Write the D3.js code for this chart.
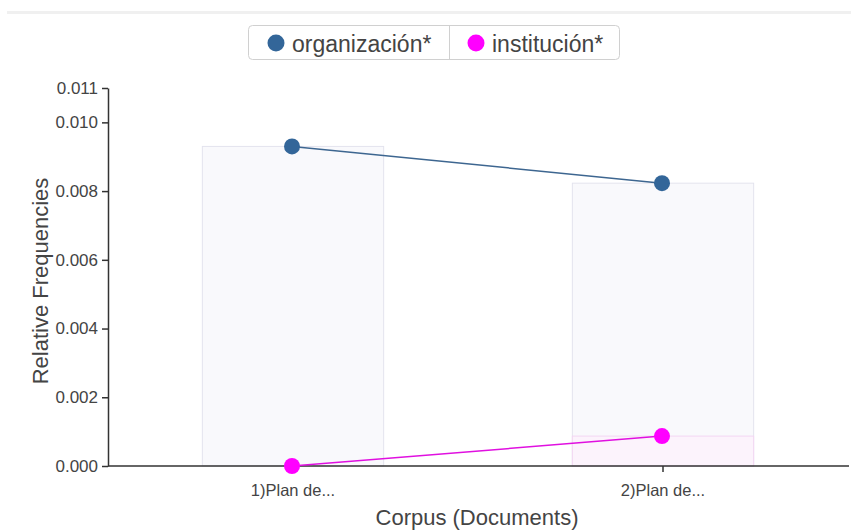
<!DOCTYPE html>
<html>
<head>
<meta charset="utf-8">
<script src="https://cdn.jsdelivr.net/npm/d3@7"></script>
<style>
  body { margin: 0; background: #fff; font-family: "Liberation Sans", Arial, sans-serif; }
  svg { display: block; }
</style>
</head>
<body>
<svg id="chart" width="851" height="531"></svg>
<script>
"use strict";

// documents on the x axis
var documents = ["1)Plan de...", "2)Plan de..."];

// series names + colors
var seriesNames = ["organización*", "institución*"];
var seriesColors = ["#336699", "#ff00ff"];

// relative frequencies per document
var organizacionValues = [0.0093, 0.00823];
var institucionValues = [0.0, 0.00087];

var yTicks = [0, 0.002, 0.004, 0.006, 0.008, 0.010, 0.011];

const svg = d3.select("#chart");

// top grey rule
svg.append("rect").attr("x", 7).attr("y", 11).attr("width", 844).attr("height", 3).attr("fill", "#f0f0f0");

var x = d3.scaleBand().domain(documents).range([108, 848]).paddingInner(0.51).paddingOuter(0.255);
var y = d3.scaleLinear().domain([0, 0.011]).range([466, 88]);

var series = [
  { name: seriesNames[0], color: seriesColors[0], values: organizacionValues, fill: "#f9f9fc", stroke: "#e3e3ee", line: "#3d6690" },
  { name: seriesNames[1], color: seriesColors[1], values: institucionValues, fill: "#fcf3fc", stroke: "#f3d6f3", line: "#e010e0" }
];

// background bars
series.forEach(function(s) {
  svg.append("g")
    .selectAll("rect")
    .data(s.values)
    .enter()
    .append("rect")
    .attr("x", function(d, i) { return x(documents[i]); })
    .attr("y", function(d) { return y(d); })
    .attr("width", x.bandwidth())
    .attr("height", function(d) { return y(0) - y(d); })
    .attr("fill", s.fill)
    .attr("stroke", s.stroke)
    .attr("stroke-width", 1);
});

// axes
var yAxis = svg.append("g")
  .attr("transform", "translate(108,0)")
  .call(d3.axisLeft(y).tickValues(yTicks).tickFormat(d3.format(".3f")).tickSizeOuter(0));
var xAxis = svg.append("g")
  .attr("transform", "translate(0,466)")
  .call(d3.axisBottom(x).tickSizeOuter(0));

[yAxis, xAxis].forEach(function(a) {
  a.selectAll("path, line").attr("stroke", "#333").attr("stroke-width", 1.5);
  a.selectAll("text").attr("fill", "#444").style("font-family", "Liberation Sans, Arial, sans-serif");
});
yAxis.selectAll("text").style("font-size", "17px").attr("x", -10);
xAxis.selectAll("text").style("font-size", "16.5px").attr("dy", "1.28em");
xAxis.select("path").attr("d", "M108,0H849");

// lines + dots
var cx = function(i) { return x(documents[i]) + x.bandwidth() / 2 - 1; };
var line = d3.line().x(function(d, i) { return cx(i); }).y(function(d) { return y(d); });

series.forEach(function(s) {
  svg.append("path")
    .datum(s.values)
    .attr("d", line)
    .attr("fill", "none")
    .attr("stroke", s.line)
    .attr("stroke-width", 1.5);
  svg.append("g")
    .selectAll("circle")
    .data(s.values)
    .enter()
    .append("circle")
    .attr("cx", function(d, i) { return cx(i); })
    .attr("cy", function(d) { return y(d); })
    .attr("r", 8)
    .attr("fill", s.color);
});

// axis titles
svg.append("text")
  .attr("transform", "translate(48,281) rotate(-90)")
  .attr("text-anchor", "middle")
  .attr("fill", "#444")
  .style("font-size", "22px")
  .text("Relative Frequencies");
svg.append("text")
  .attr("x", 477).attr("y", 525)
  .attr("text-anchor", "middle")
  .attr("fill", "#444")
  .style("font-size", "22px")
  .text("Corpus (Documents)");

// legend
var legend = svg.append("g");
legend.append("rect").attr("x", 248.5).attr("y", 25.5).attr("width", 371).attr("height", 34)
  .attr("rx", 4).attr("fill", "#fff").attr("stroke", "#d0d0d0");
legend.append("line").attr("x1", 449.5).attr("x2", 449.5).attr("y1", 25.5).attr("y2", 59.5).attr("stroke", "#d0d0d0");
var legendX = [276, 476];
series.forEach(function(s, i) {
  legend.append("circle").attr("cx", legendX[i]).attr("cy", 43).attr("r", 8.5).attr("fill", s.color);
  legend.append("text").attr("x", legendX[i] + 16).attr("y", 51.5)
    .attr("fill", "#444").style("font-size", "23px").text(s.name);
});
</script>
</body>
</html>
